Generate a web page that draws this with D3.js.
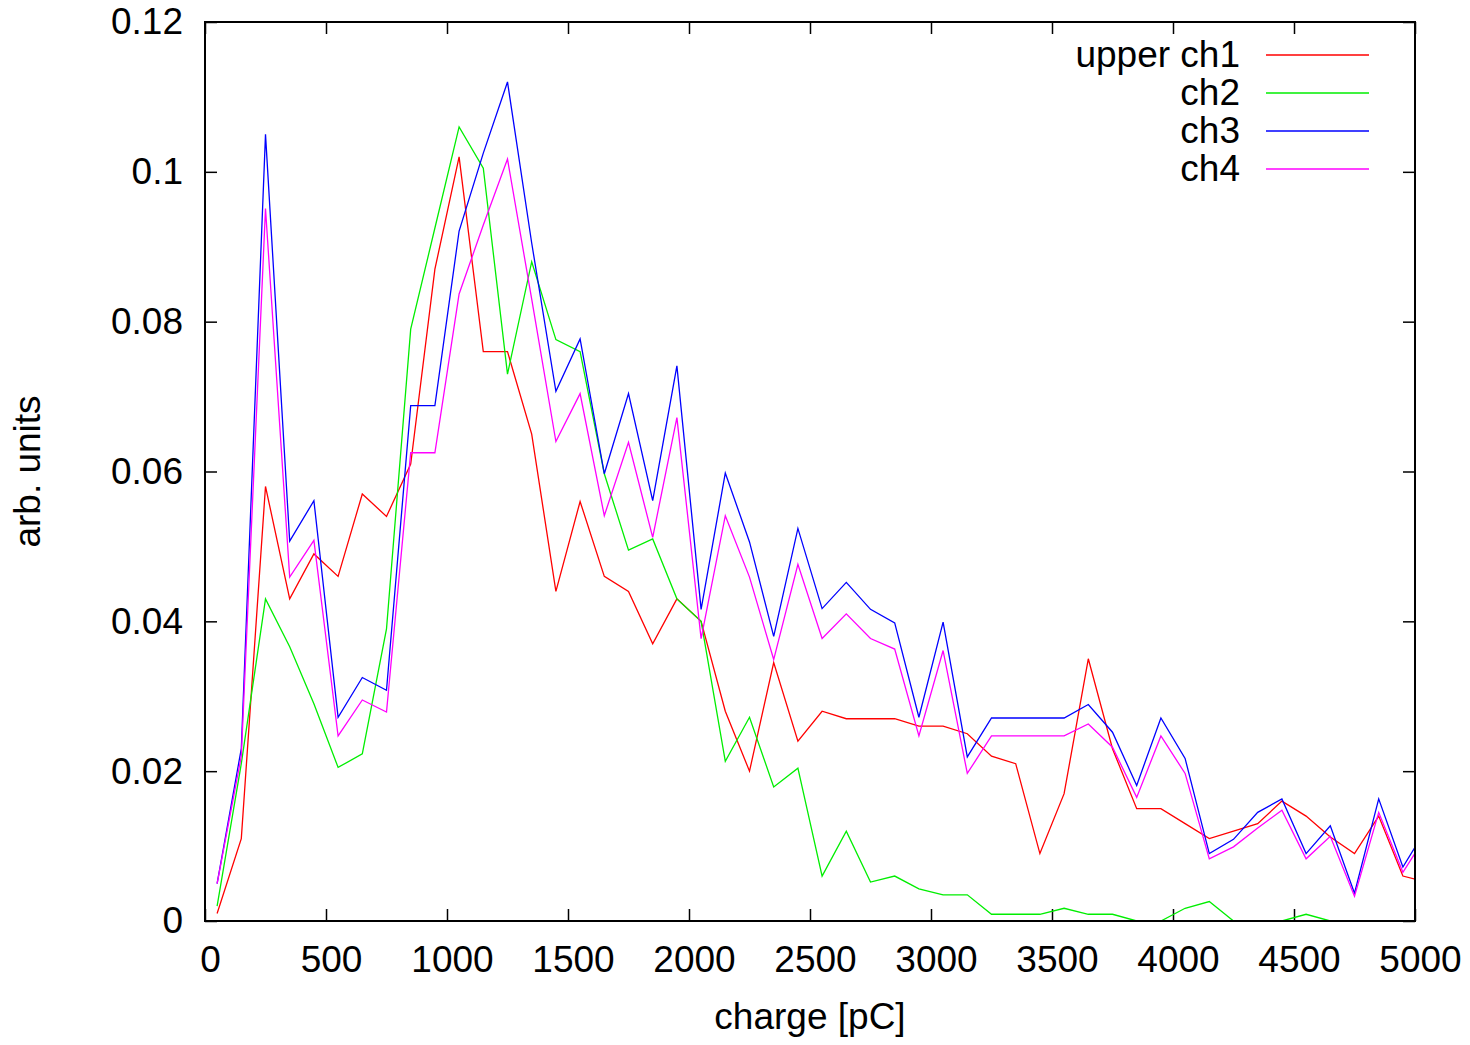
<!DOCTYPE html>
<html>
<head>
<meta charset="utf-8">
<script src="https://cdn.jsdelivr.net/npm/d3@7/dist/d3.min.js"></script>
<style>
  html, body { margin: 0; padding: 0; background: #fff; }
  svg { display: block; }
  text { font-family: "Liberation Sans", Arial, Helvetica, sans-serif; fill: #000; }
</style>
</head>
<body>
<svg id="chart" width="1470" height="1045"></svg>
<script>
// Bin centres of the charge histogram (pC); the last bin lies just past the axis end
const charge = d3.range(51).map(k => 50 + 100 * k);

const seriesNames = ["upper ch1", "ch2", "ch3", "ch4"];
const seriesColors = ["#ff0000", "#00ee00", "#0000ff", "#ff00ff"];

const ch1 = [0.001, 0.011, 0.058, 0.043, 0.049, 0.046, 0.057, 0.054, 0.061, 0.087,
             0.102, 0.076, 0.076, 0.065, 0.044, 0.056, 0.046, 0.044, 0.037, 0.043,
             0.040, 0.028, 0.020, 0.0345, 0.024, 0.028, 0.027, 0.027, 0.027, 0.026,
             0.026, 0.025, 0.022, 0.021, 0.009, 0.017, 0.035, 0.023, 0.015, 0.015,
             0.013, 0.011, 0.012, 0.013, 0.016, 0.014, 0.0112, 0.009, 0.014, 0.006,
             0.0052];
const ch2 = [0.002, 0.021, 0.043, 0.0366, 0.029, 0.0205, 0.0223, 0.039, 0.079, 0.0925,
             0.106, 0.1005, 0.073, 0.088, 0.0776, 0.076, 0.0597, 0.0495, 0.051, 0.043,
             0.040, 0.0213, 0.0272, 0.0179, 0.0204, 0.006, 0.012, 0.0052, 0.006, 0.0043,
             0.0035, 0.0035, 0.0009, 0.0009, 0.0009, 0.0017, 0.0009, 0.0009, 0, 0,
             0.0017, 0.0026, 0, 0, 0, 0.0009, 0, 0, 0, 0,
             0];
const ch3 = [0.005, 0.023, 0.105, 0.0507, 0.0561, 0.0272, 0.0325, 0.0308, 0.0688, 0.0688,
             0.0921, 0.1025, 0.112, 0.0905, 0.0707, 0.0777, 0.0597, 0.0704, 0.0561, 0.0741,
             0.0416, 0.0598, 0.0506, 0.038, 0.0524, 0.0417, 0.0452, 0.0416, 0.0398, 0.0272,
             0.0399, 0.0219, 0.0271, 0.0271, 0.0271, 0.0271, 0.0289, 0.0252, 0.0181, 0.0271,
             0.0217, 0.009, 0.0109, 0.0145, 0.0163, 0.009, 0.0127, 0.0037, 0.0163, 0.0072,
             0.0125];
const ch4 = [0.005, 0.022, 0.0951, 0.0459, 0.0508, 0.0247, 0.0295, 0.0279, 0.0625, 0.0625,
             0.0837, 0.0929, 0.1017, 0.083, 0.064, 0.0704, 0.0541, 0.0639, 0.0512, 0.0672,
             0.0377, 0.0541, 0.0459, 0.0349, 0.0476, 0.0377, 0.041, 0.0377, 0.0363, 0.0247,
             0.0361, 0.0197, 0.0247, 0.0247, 0.0247, 0.0247, 0.0263, 0.0232, 0.0165, 0.0247,
             0.0197, 0.0083, 0.0099, 0.0124, 0.0148, 0.0083, 0.0113, 0.0033, 0.0145, 0.0065,
             0.0116];

const xTicks = [0, 500, 1000, 1500, 2000, 2500, 3000, 3500, 4000, 4500, 5000];
const yTicks = [0, 0.02, 0.04, 0.06, 0.08, 0.1, 0.12];
const xTitle = "charge [pC]";
const yTitle = "arb. units";

const svg = d3.select("#chart");
const plotLeft = 205, plotRight = 1415, plotTop = 22, plotBottom = 921;

const x = d3.scaleLinear().domain([0, 5000]).range([plotLeft, plotRight]);
const y = d3.scaleLinear().domain([0, 0.12]).range([plotBottom, plotTop]);

svg.append("defs").append("clipPath").attr("id", "plotClip")
  .append("rect")
  .attr("x", plotLeft).attr("y", plotTop)
  .attr("width", plotRight - plotLeft).attr("height", plotBottom - plotTop);

// Inward ticks on all four sides, labels on bottom and left only
const tickLen = 12;
const fontSize = 37;

const xAxisB = d3.axisBottom(x).tickValues(xTicks).tickSizeInner(-tickLen).tickSizeOuter(0).tickPadding(25)
  .tickFormat(d3.format("d"));
const gxb = svg.append("g").attr("transform", `translate(0,${plotBottom})`).call(xAxisB);
gxb.select(".domain").remove();
gxb.selectAll(".tick line").attr("stroke", "#000").attr("stroke-width", 1.5);
gxb.selectAll(".tick text").attr("font-size", fontSize).attr("dx", 5).attr("fill", "#000");

const xAxisT = d3.axisTop(x).tickValues(xTicks).tickSizeInner(-tickLen).tickSizeOuter(0).tickFormat("");
const gxt = svg.append("g").attr("transform", `translate(0,${plotTop})`).call(xAxisT);
gxt.select(".domain").remove();
gxt.selectAll(".tick line").attr("stroke", "#000").attr("stroke-width", 1.5);

const yAxisL = d3.axisLeft(y).tickValues(yTicks).tickSizeInner(-tickLen).tickSizeOuter(0).tickPadding(22)
  .tickFormat(d => d === 0 ? "0" : String(+d.toFixed(2)));
const gyl = svg.append("g").attr("transform", `translate(${plotLeft},0)`).call(yAxisL);
gyl.select(".domain").remove();
gyl.selectAll(".tick line").attr("stroke", "#000").attr("stroke-width", 1.5);
gyl.selectAll(".tick text").attr("font-size", fontSize).attr("fill", "#000");

const yAxisR = d3.axisRight(y).tickValues(yTicks).tickSizeInner(-tickLen).tickSizeOuter(0).tickFormat("");
const gyr = svg.append("g").attr("transform", `translate(${plotRight},0)`).call(yAxisR);
gyr.select(".domain").remove();
gyr.selectAll(".tick line").attr("stroke", "#000").attr("stroke-width", 1.5);

// Data curves
const allSeries = [ch1, ch2, ch3, ch4];
const line = d3.line().x((d, i) => x(charge[i])).y(d => y(d));
const plot = svg.append("g").attr("clip-path", "url(#plotClip)");
allSeries.forEach((vals, s) => {
  plot.append("path")
    .datum(vals)
    .attr("d", line)
    .attr("fill", "none")
    .attr("stroke", seriesColors[s])
    .attr("stroke-width", 1.3)
    .attr("stroke-linejoin", "miter");
});

// Frame
svg.append("rect")
  .attr("x", plotLeft).attr("y", plotTop)
  .attr("width", plotRight - plotLeft).attr("height", plotBottom - plotTop)
  .attr("fill", "none").attr("stroke", "#000").attr("stroke-width", 2);

// Legend
const legendRowY = [55, 93, 131, 169];
const legend = svg.append("g");
seriesNames.forEach((name, i) => {
  legend.append("text")
    .attr("x", 1240).attr("y", legendRowY[i] + 12)
    .attr("text-anchor", "end")
    .attr("font-size", fontSize)
    .text(name);
  legend.append("line")
    .attr("x1", 1266).attr("x2", 1369)
    .attr("y1", legendRowY[i]).attr("y2", legendRowY[i])
    .attr("stroke", seriesColors[i]).attr("stroke-width", 1.3);
});

// Axis titles
svg.append("text")
  .attr("x", (plotLeft + plotRight) / 2).attr("y", 1029)
  .attr("text-anchor", "middle")
  .attr("font-size", fontSize)
  .text(xTitle);

svg.append("text")
  .attr("transform", `translate(40,${(plotTop + plotBottom) / 2}) rotate(-90)`)
  .attr("text-anchor", "middle")
  .attr("font-size", fontSize)
  .text(yTitle);
</script>
</body>
</html>
